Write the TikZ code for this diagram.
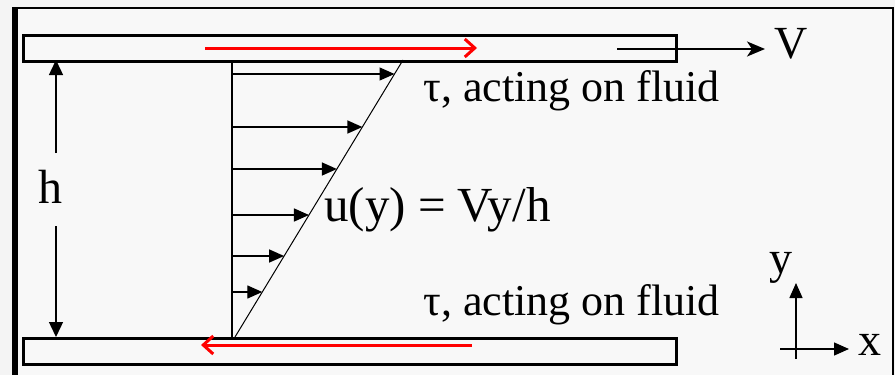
\documentclass[tikz,border=0pt]{standalone}
\usepackage{fontspec}
\setmainfont{Liberation Serif}
\usetikzlibrary{arrows.meta}
\definecolor{outer}{HTML}{F4F4F4}
\definecolor{inner}{HTML}{F8F8F8}
\definecolor{shear}{HTML}{FF0000}
\tikzset{
  plate/.style={draw=black, line width=3pt},
  lbl/.style={inner sep=0pt, font=\fontsize{44}{48}\selectfont},
  profarrow/.style={line width=1.4pt, -{Triangle[length=15pt,width=13pt]}},
  dimarrow/.style={line width=1.4pt, -{Triangle[length=15pt,width=14pt]}},
  redarrow/.style={draw=shear, line width=3pt, -{Straight Barb[length=10pt,width=18pt,line width=3pt]}},
  axarrow/.style={line width=1.4pt, -{Triangle[length=15pt,width=13pt]}},
}
\begin{document}
\begin{tikzpicture}[x=1pt,y=-1pt]
\useasboundingbox (0,0) rectangle (895,375);
\fill[outer] (0,0) rectangle (895,375);
\fill[inner] (15,8) rectangle (893,375);
\draw[line width=2pt] (12,8) -- (893,8) -- (893,375);
\draw[line width=6pt] (15,7) -- (15,375);

% plates
\node[plate, minimum width=653pt, minimum height=26pt, anchor=north west, inner sep=0pt] (top) at (22,34) {};
\node[plate, minimum width=653pt, minimum height=26pt, anchor=north west, inner sep=0pt] (bot) at (22,337) {};

% shear stress arrows
\coordinate (rt1) at (205,48);
\coordinate (rt2) at (477,48);
\draw[redarrow] (rt1) -- (rt2);
\coordinate (rb1) at (472,345);
\coordinate (rb2) at (201,345);
\draw[redarrow] (rb1) -- (rb2);

% V arrow
\coordinate (v1) at (617,49);
\node[lbl, anchor=base west, font=\fontsize{46}{50}\selectfont] (V) at (774,58) {V};
\draw[line width=2.2pt, -{Stealth[length=18pt,width=15pt,inset=5pt]}] (v1) -- (765,49);

% h dimension
\node[lbl, font=\fontsize{48}{52}\selectfont, anchor=base] (h) at (50,203) {h};
\coordinate (hTop) at (56,60);
\coordinate (hBot) at (56,337);
\draw[dimarrow] (56,153) -- (hTop);
\draw[dimarrow] (56,226) -- (hBot);

% velocity profile
\coordinate (p0) at (232,60);
\coordinate (p1) at (232,337);
\coordinate (d0) at (235,337);
\coordinate (d1) at (403,60);
\draw[line width=1.4pt] (p0) -- (p1);
\draw[line width=1pt] (d0) -- (d1);
\foreach \yy in {74,127,169,215,256,292}{
  \pgfmathsetmacro{\xx}{235+0.6065*(337-\yy)}
  \draw[profarrow] (232,\yy) -- (\xx,\yy);
}

% labels
\node[lbl, anchor=base east] (tauTop) at (720,101) {τ, acting on fluid};
\node[lbl, anchor=base east] (tauBot) at (720,315) {τ, acting on fluid};
\node[lbl, anchor=base west, font=\fontsize{49}{53}\selectfont] (u) at (324,221) {u(y) = Vy/h};

% axes
\coordinate (o) at (796,349);
\coordinate (xa0) at (780,349);
\coordinate (xa1) at (849,349);
\coordinate (ya0) at (796,359);
\coordinate (ya1) at (796,283);
\draw[axarrow] (xa0) -- (xa1);
\draw[axarrow] (ya0) -- (ya1);
\node[lbl, anchor=base west, font=\fontsize{46}{50}\selectfont] (xl) at (858,355) {x};
\node[lbl, anchor=base west, font=\fontsize{46}{50}\selectfont] (yl) at (769,273) {y};
\end{tikzpicture}
\end{document}
